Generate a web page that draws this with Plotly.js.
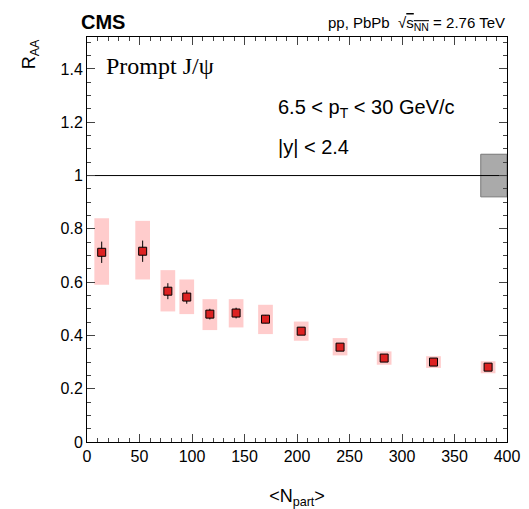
<!DOCTYPE html>
<html><head><script src="https://cdn.plot.ly/plotly-3.0.1.min.js"></script></head>
<body style="margin:0"><div id="c" style="width:529px;height:509px"></div>
<script>
var npart = [14, 53, 77, 95, 117, 142, 170, 204, 241, 283, 330, 382];
var raa = [0.712, 0.716, 0.566, 0.544, 0.48, 0.484, 0.461, 0.416, 0.356, 0.315, 0.30, 0.281];
var stat = [0.04, 0.04, 0.03, 0.025, 0.02, 0.02, 0.015, 0.012, 0.01, 0.008, 0.008, 0.007];
var sysLo = [0.59, 0.61, 0.49, 0.48, 0.42, 0.43, 0.405, 0.38, 0.325, 0.29, 0.278, 0.258];
var sysHi = [0.84, 0.83, 0.645, 0.61, 0.536, 0.536, 0.515, 0.452, 0.39, 0.34, 0.322, 0.303];
var globX = [387.5], globLo = [0.92], globHi = [1.08];

var traces = [
  {type:'bar', x:npart, base:sysLo, y:sysHi.map(function(h,i){return h-sysLo[i];}),
   width:14, marker:{color:'#ffcccc', line:{width:0}}, hoverinfo:'skip'},
  {type:'bar', x:globX, base:globLo, y:[globHi[0]-globLo[0]], width:25,
   marker:{color:'#aaaaaa', line:{color:'#777', width:1}}, hoverinfo:'skip'},
  {type:'scatter', mode:'lines', x:[0,400], y:[1,1], line:{color:'black', width:1}},
  {type:'scatter', mode:'markers', x:npart, y:raa,
   error_y:{type:'data', array:stat, color:'black', thickness:1, width:0},
   marker:{symbol:'square', size:8, color:'#dd2222', line:{color:'black', width:1}}}
];
var ax = {showline:true, mirror:'ticks', linecolor:'black', ticks:'inside', ticklen:8,
  zeroline:false, showgrid:false, tickfont:{size:16, family:'Liberation Sans'}};
var layout = {
  width:529, height:509, showlegend:false, barmode:'overlay',
  paper_bgcolor:'white', plot_bgcolor:'white',
  margin:{l:87, r:22, t:37, b:67},
  font:{family:'Liberation Sans', color:'black'},
  xaxis:Object.assign({}, ax, {range:[0,400], dtick:50, minor:{ticks:'inside', ticklen:4, dtick:10},
    title:{text:'<N<sub>part</sub>>', font:{size:18}}}),
  yaxis:Object.assign({}, ax, {range:[0,1.52], tickvals:[0,0.2,0.4,0.6,0.8,1,1.2,1.4],
    ticktext:['0','0.2','0.4','0.6','0.8','1','1.2','1.4'], minor:{ticks:'inside', ticklen:4, dtick:0.05}}),
  annotations:[
    {xref:'paper', yref:'paper', x:-0.135, y:1.0, xanchor:'center', yanchor:'top', showarrow:false,
     textangle:-90, text:'R<sub>AA</sub>', font:{size:18}},
    {xref:'paper', yref:'paper', x:-0.02, y:1.005, xanchor:'left', yanchor:'bottom', showarrow:false,
     text:'<b>CMS</b>', font:{size:20}},
    {xref:'paper', yref:'paper', x:1.0, y:1.005, xanchor:'right', yanchor:'bottom', showarrow:false,
     text:'pp, PbPb  √<span style="text-decoration:overline">s<sub>NN</sub></span> = 2.76 TeV', font:{size:15}},
    {xref:'paper', yref:'paper', x:0.04, y:0.965, xanchor:'left', yanchor:'top', showarrow:false,
     text:'Prompt J/ψ', font:{size:24, family:'Liberation Serif'}},
    {xref:'paper', yref:'paper', x:0.45, y:0.86, xanchor:'left', yanchor:'top', showarrow:false,
     text:'6.5 < p<sub>T</sub> < 30 GeV/c', font:{size:20}},
    {xref:'paper', yref:'paper', x:0.45, y:0.76, xanchor:'left', yanchor:'top', showarrow:false,
     text:'|y| < 2.4', font:{size:20}}
  ]
};
Plotly.newPlot('c', traces, layout, {displayModeBar:false});
</script></body></html>
